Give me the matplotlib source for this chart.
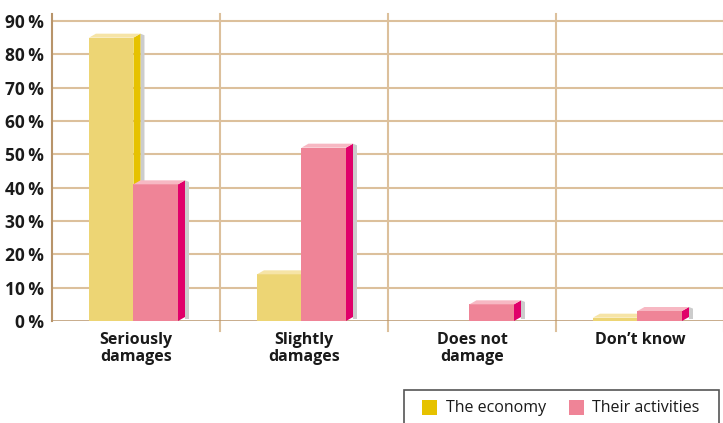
import matplotlib
matplotlib.use("Agg")
import matplotlib.pyplot as plt
from matplotlib.patches import Polygon, Rectangle

categories = ["Seriously\ndamages", "Slightly\ndamages", "Does not\ndamage", "Don\u2019t know"]
economy = [85, 14, 0, 1]
activities = [41, 52, 5, 3]
series_names = ["The economy", "Their activities"]
y_ticks = [0, 10, 20, 30, 40, 50, 60, 70, 80, 90]

W, H = 723, 423
fig = plt.figure(figsize=(W / 100, H / 100), dpi=100)
plt.rcParams["font.family"] = ["Open Sans", "DejaVu Sans"]

# axes: 0% at y=321 px, 10% steps of 33.3 px, categories 168 px wide starting at x=52
px_per_unit = 300 / 90
ymax = 92
ax_bottom = (H - 321) / H
ax_height = ymax * px_per_unit / H
ax_left = 52 / W
ax_width = 4 * 168 / W
ax = fig.add_axes([ax_left, ax_bottom, ax_width, ax_height])
ax.set_xlim(0, 4)
ax.set_ylim(0, ymax)

grid_c = "#dcc09c"
axis_c = "#b8946a"
for s in ["top", "right", "bottom"]:
    ax.spines[s].set_visible(False)
ax.spines["left"].set_color(axis_c)
ax.spines["left"].set_linewidth(1.5)

for v in y_ticks[1:]:
    ax.axhline(v, color=grid_c, lw=1.5, zorder=0)
for x in range(1, 5):
    ax.plot([x, x], [-3, ymax], color=grid_c, lw=1.5, zorder=0, clip_on=False)
ax.axhline(0, color=axis_c, lw=1.8, zorder=1)

ax.set_yticks(y_ticks)
ax.set_yticklabels([f"{v}\u2009%" for v in y_ticks], fontsize=12.5, fontweight="bold",
                   color="#1a1a1a")
ax.tick_params(axis="y", length=0, pad=6)
ax.set_xticks([i + 0.5 for i in range(4)])
ax.set_xticklabels(categories, fontsize=11.5, fontweight="bold", color="#1a1a1a", linespacing=1.1)
ax.tick_params(axis="x", length=0, pad=8)

dx = 7 / 168
dy = 4 / px_per_unit
bw = 0.265

styles = [
    dict(front="#edd574", side="#e6c200", top="#f6e4a6"),
    dict(front="#ef8497", side="#e0006a", top="#f7b8c3"),
]


def bar3d(x0, h, st):
    x1 = x0 + bw
    if h <= 0:
        return
    # soft shadow behind the side face
    ax.add_patch(Polygon([(x1 + dx, dy * 0.5), (x1 + dx + 4 / 168, dy * 0.5),
                          (x1 + dx + 4 / 168, h + dy * 0.6), (x1 + dx, h + dy)],
                         closed=True, fc="#cccccc", ec="none", zorder=2))
    ax.add_patch(Rectangle((x0, 0), bw, h, fc=st["front"], ec="none", zorder=3))
    ax.add_patch(Polygon([(x1, 0), (x1 + dx, dy), (x1 + dx, h + dy), (x1, h)],
                         closed=True, fc=st["side"], ec="none", zorder=3))
    ax.add_patch(Polygon([(x0, h), (x0 + dx, h + dy), (x1 + dx, h + dy), (x1, h)],
                         closed=True, fc=st["top"], ec="none", zorder=3))


for i in range(len(categories)):
    bar3d(i + 0.22, economy[i], styles[0])
    bar3d(i + 0.22 + bw, activities[i], styles[1])


def fx(px):
    return px / W


def fy(py):
    return 1 - py / H


# legend box
fig.add_artist(Rectangle((fx(404), fy(430)), fx(719) - fx(404), fy(390) - fy(430),
                         transform=fig.transFigure, fc="white", ec="#555555", lw=1.2))
legend_items = [(422, 446, styles[0]["side"]), (569, 592, styles[1]["front"])]
for (sx, tx, c), name in zip(legend_items, series_names):
    fig.add_artist(Rectangle((fx(sx), fy(415)), fx(15), 15 / H,
                             transform=fig.transFigure, fc=c, ec="none"))
    fig.text(fx(tx), fy(407.5), name, fontsize=11.5, color="#1a1a1a", va="center", ha="left")

fig.savefig("out.png", dpi=100)
